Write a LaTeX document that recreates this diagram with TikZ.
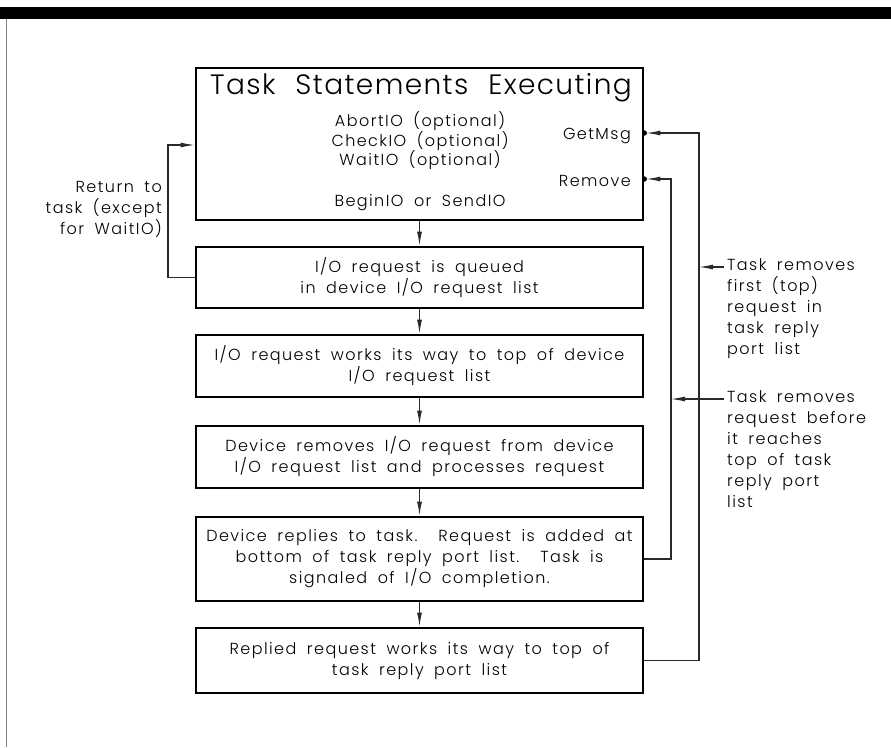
\documentclass[tikz,border=0pt]{standalone}
\usepackage{fontspec}
\setmainfont{Poppins}[UprightFont=* Light, LetterSpace=9, WordSpace=1.8]
\newfontfamily\titlefont{Poppins}[UprightFont=* Light, LetterSpace=5, WordSpace=2.2]
\usetikzlibrary{arrows.meta}

\definecolor{wire}{HTML}{2A2A2A}

\tikzset{
  box/.style={draw=black, line width=2.8pt, minimum width=447pt, inner sep=2pt,
    align=center, font=\fontsize{16}{21}\selectfont},
  lbl/.style={inner sep=0pt, font=\fontsize{16}{21}\selectfont},
  ttl/.style={inner sep=0pt, font=\titlefont\fontsize{28}{34}\selectfont},
  flow/.style={draw=wire, line width=1.1pt, -{Latex[length=14pt,width=5pt]}},
  port/.style={fill=black},
}

\begin{document}
\begin{tikzpicture}[x=1pt, y=-1pt]
  \useasboundingbox (0,0) rectangle (891,747);

  % page furniture: heavy rule on top, thin rule on the left
  \fill[black] (0,7) rectangle (891,19);
  \draw[gray, line width=1pt] (6,19) -- (6,747);

  % flow of an I/O request
  \node[box, minimum height=152pt] (task) at (419.5,144) {};
  \node[box, minimum height=61pt] (queued) at (419.5,277.5)
    {I/O request is queued\\in device I/O request list};
  \node[box, minimum height=62pt] (totop) at (419.5,366)
    {I/O request works its way to top of device\\I/O request list};
  \node[box, minimum height=62pt] (devrm) at (419.5,457)
    {Device removes I/O request from device\\I/O request list and processes request};
  \node[box, minimum height=84pt] (reply) at (419.5,559)
    {Device replies to task.\ \ Request is added at\\bottom of task reply port list.\ \ Task is\\signaled of I/O completion.};
  \node[box, minimum height=65pt] (replied) at (419.5,660.5)
    {Replied request works its way to top of\\task reply port list};

  % contents of the task box
  \node[ttl] (title) at (421,88) {Task Statements Executing};
  \node[lbl] (abort) at (420,121) {AbortIO (optional)};
  \node[lbl] (check) at (420,141) {CheckIO (optional)};
  \node[lbl] (wait)  at (420,160) {WaitIO (optional)};
  \node[lbl] (begin) at (420,203) {BeginIO or SendIO};
  \node[lbl, anchor=east] (getmsg) at (631,136) {GetMsg};
  \node[lbl, anchor=east] (remove) at (631,181) {Remove};

  % downward flow
  \draw[flow] (task.south) -- (queued.north);
  \draw[flow] (queued.south) -- (totop.north);
  \draw[flow] (totop.south) -- (devrm.north);
  \draw[flow] (devrm.south) -- (reply.north);
  \draw[flow] (reply.south) -- (replied.north);

  % return to task
  \coordinate (retcorner) at (168,145);
  \draw[flow] (queued.west) -| (retcorner) -- (retcorner -| task.west);
  \node[lbl, anchor=east, align=right] (retlbl) at (162,209)
    {Return to\\task (except\\for WaitIO)};

  % reply port removal paths
  \path (task.east) ++(0,-11) coordinate (gm);
  \path (task.east) ++(0,35) coordinate (rm);
  \coordinate (outer) at (699,0);
  \coordinate (inner) at (671,0);
  \draw[flow, shorten >=2pt] (replied.east) -| (outer |- gm) -- (gm);
  \draw[flow, shorten >=2pt] (reply.east) -| (inner |- rm) -- (rm);
  \fill[port] (gm) circle (2.6);
  \fill[port] (rm) circle (2.6);

  % notes on the removal paths
  \node[lbl, anchor=north west, align=left] (note1) at (727,258)
    {Task removes\\first (top)\\request in\\task reply\\port list};
  \coordinate (n1) at (724,267);
  \draw[flow] (n1) -- (n1 -| outer);
  \node[lbl, anchor=north west, align=left] (note2) at (727,390)
    {Task removes\\request before\\it reaches\\top of task\\reply port\\list};
  \coordinate (n2) at (724,399);
  \draw[flow] (n2) -- (n2 -| inner);
\end{tikzpicture}
\end{document}
